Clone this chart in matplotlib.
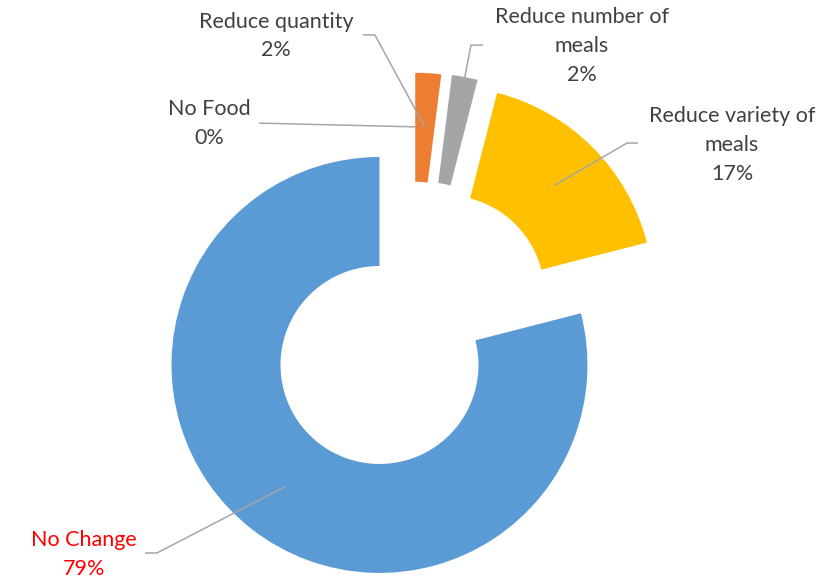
import numpy as np
import matplotlib
matplotlib.use('Agg')
from matplotlib import pyplot as plt

categories = ['No Food', 'Reduce quantity', 'Reduce number of meals',
              'Reduce variety of meals', 'No Change']
shares = [0, 2, 2, 17, 79]
label_text = ['No Food', 'Reduce quantity', 'Reduce number of\nmeals',
              'Reduce variety of\nmeals', 'No Change']

colors = ['#5B9BD5', '#ED7D31', '#A5A5A5', '#FFC000', '#5B9BD5']
# how far each slice is pulled out, and in which direction (deg, clockwise from top)
pull = [0.44, 0.44, 0.46, 0.465, 0.0]
pull_dir = [23, 23, 29, 43, 0]

# label placement: text centre, leader start, elbow, where leader meets slice
text_pos = [(-0.820, 1.161), (-0.498, 1.582), (0.974, 1.534),
            (1.695, 1.058), (-1.421, -0.913)]
leader_start = [(-0.579, 1.163), (-0.079, 1.587), (0.498, 1.538),
                (1.243, 1.067), (-1.127, -0.904)]
leader_elbow = [None, (-0.022, 1.587), (0.440, 1.538),
                (1.190, 1.067), (-1.070, -0.904)]
anchor_r = [0.74, 0.74, 1.0, 0.74, 0.74]
text_colors = ['#404040', '#404040', '#404040', '#404040', '#FF0000']

ring = 0.524

fig = plt.figure(figsize=(8.25, 5.8), dpi=100)
ax = fig.add_axes([0, 0, 1, 1])

wedges, _ = ax.pie(shares, colors=colors, startangle=90, counterclock=False,
                   radius=1.0, wedgeprops=dict(width=ring, linewidth=0))

for w, d, a in zip(wedges, pull, pull_dir):
    rad = np.deg2rad(a)
    w.set_center((d * np.sin(rad), d * np.cos(rad)))

for i, w in enumerate(wedges):
    cx, cy = w.center
    mid = np.deg2rad((w.theta1 + w.theta2) / 2)
    ax_pt = (cx + anchor_r[i] * np.cos(mid), cy + anchor_r[i] * np.sin(mid))
    pts = [leader_start[i]]
    if leader_elbow[i] is not None:
        pts.append(leader_elbow[i])
    pts.append(ax_pt)
    xs, ys = zip(*pts)
    ax.plot(xs, ys, color='#A6A6A6', lw=1.1, solid_capstyle='butt', zorder=3)

    ax.text(text_pos[i][0], text_pos[i][1],
            f'{label_text[i]}\n{shares[i]}%',
            ha='center', va='center', fontsize=15.5, family='Lato',
            color=text_colors[i], linespacing=1.55)

ax.set_xlim(-1.8245, 2.142)
ax.set_ylim(-1.034, 1.755)
ax.set_aspect('equal')
ax.axis('off')

fig.savefig('out.png', dpi=100)
